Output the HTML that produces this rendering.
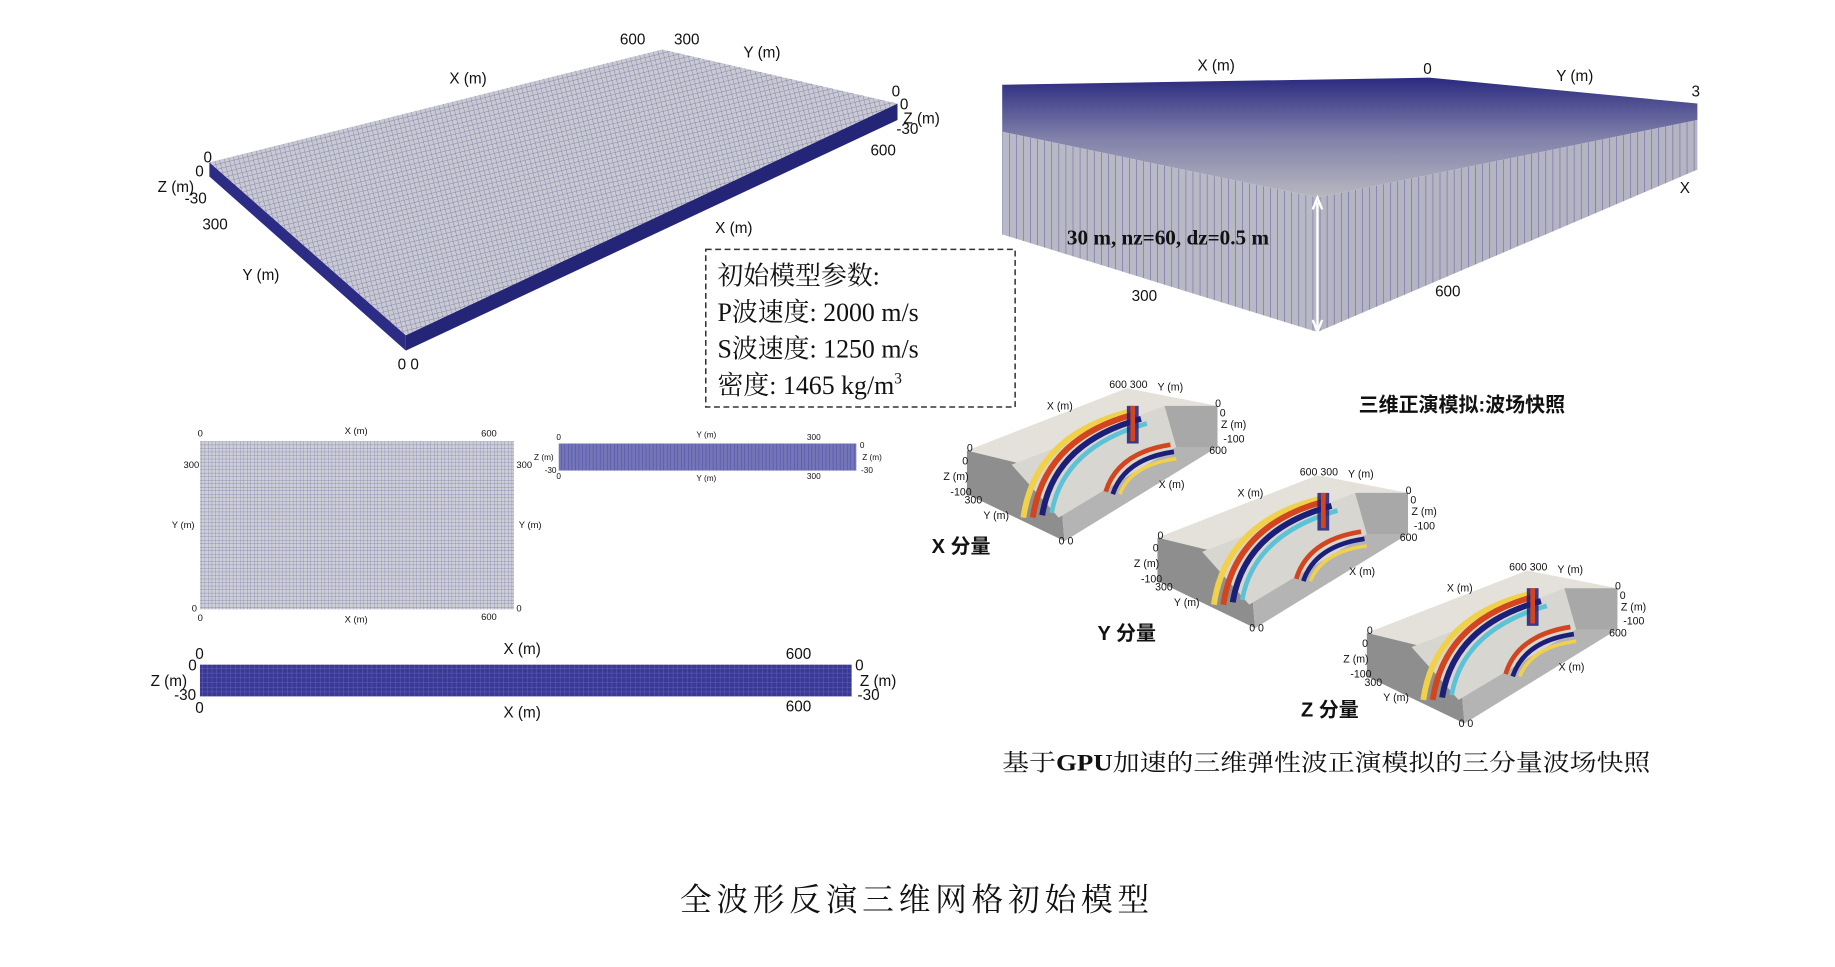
<!DOCTYPE html>
<html><head><meta charset="utf-8"><style>
html,body{margin:0;padding:0;background:#fff;}
svg{display:block;}
.s{font-family:"Liberation Sans","Noto Sans CJK SC",sans-serif;fill:#111;}
.r{font-family:"Liberation Serif","Noto Serif CJK SC",serif;fill:#111;}
</style></head><body>
<svg width="1835" height="967" viewBox="0 0 1560 822" xmlns="http://www.w3.org/2000/svg">
<defs>
<pattern id="g1" width="4" height="4" patternUnits="userSpaceOnUse" patternTransform="rotate(-14)">
<rect width="4" height="4" fill="#c9c9d3"/><path d="M0 0H4M0 0V4" stroke="#8484a8" stroke-width="0.8"/></pattern>
<pattern id="g2" width="3" height="3" patternUnits="userSpaceOnUse">
<rect width="3" height="3" fill="#cfcfd8"/><path d="M0 0H3M0 0V3" stroke="#8a8ab4" stroke-width="0.7"/></pattern>
<pattern id="vs" width="6" height="6" patternUnits="userSpaceOnUse">
<rect width="6" height="6" fill="#b9b9c6"/><path d="M0 0V6" stroke="#5656a0" stroke-width="0.8"/></pattern>
<pattern id="vs2" width="6" height="6" patternUnits="userSpaceOnUse" patternTransform="skewY(-22)">
<rect width="6" height="6" fill="#b4b4c2"/><path d="M0 0V6" stroke="#5656a0" stroke-width="0.8"/></pattern>
<pattern id="db" width="4" height="4" patternUnits="userSpaceOnUse">
<rect width="4" height="4" fill="#3a3a96"/><path d="M0 0H4M0 0V4" stroke="#6c6cc0" stroke-width="0.6"/></pattern>
<pattern id="mb" width="3" height="3" patternUnits="userSpaceOnUse">
<rect width="3" height="3" fill="#7474b8"/><path d="M0 0V3" stroke="#4a4aa0" stroke-width="0.8"/></pattern>
<linearGradient id="tf" x1="0" y1="0" x2="0" y2="1">
<stop offset="0" stop-color="#2a2a80"/><stop offset="0.5" stop-color="#8080aa"/><stop offset="1" stop-color="#b8b8c0"/></linearGradient>
<g id="wb">
<polygon points="822,383 958,330 1035,345 900,402" fill="#e4e1da"/>
<polygon points="822,383 900,402 905,460 822,420" fill="#8e8e8e"/>
<polygon points="900,402 1035,345 1035,380 905,460" fill="#b4b4b4"/>
<polygon points="860,395 990,345 1000,380 900,440" fill="#d8d6d0"/>
<polygon points="990,345 1035,345 1035,380 1000,380" fill="#a8a8a8"/>
<path d="M870 440 Q880 370 960 350" stroke="#f2d14a" stroke-width="5" fill="none"/>
<path d="M878 440 Q888 372 965 352" stroke="#d2451e" stroke-width="5" fill="none"/>
<path d="M886 438 Q896 376 970 356" stroke="#1c1f78" stroke-width="5" fill="none"/>
<path d="M894 436 Q904 380 975 360" stroke="#5cc3d6" stroke-width="4" fill="none"/>
<path d="M940 418 Q950 385 995 378" stroke="#d2451e" stroke-width="4" fill="none"/>
<path d="M946 420 Q956 390 998 384" stroke="#1c1f78" stroke-width="4" fill="none"/>
<path d="M952 420 Q962 395 1000 390" stroke="#f2d14a" stroke-width="3" fill="none"/>
<rect x="958" y="345" width="10" height="32" fill="#1c1f78" opacity="0.85"/>
<rect x="961" y="345" width="4" height="30" fill="#d2451e"/>
</g>
</defs>

<polygon points="178,138 345,285 345,298 178,150" fill="#2c2c85"/>
<polygon points="345,285 763,88 763,102 345,298" fill="#252578"/>
<polygon points="178,138 563,42 763,88 345,285" fill="url(#g1)"/>
<g class="s" font-size="13">
<text x="527" y="38">600</text><text x="573" y="38">300</text><text x="632" y="49">Y (m)</text>
<text x="382" y="71">X (m)</text><text x="758" y="82">0</text><text x="765" y="93">0</text>
<text x="768" y="105">Z (m)</text><text x="762" y="114">-30</text><text x="740" y="132">600</text>
<text x="173" y="138">0</text><text x="166" y="150">0</text><text x="134" y="163">Z (m)</text><text x="157" y="173">-30</text>
<text x="172" y="195">300</text><text x="206" y="238">Y (m)</text><text x="608" y="198">X (m)</text><text x="338" y="314">0 0</text>
</g>

<polygon points="852,72 1215,66 1443,88 1443,102 1120,168 852,112" fill="url(#tf)"/>
<polygon points="852,112 1120,168 1120,283 852,200" fill="url(#vs)"/>
<polygon points="1120,168 1443,102 1443,145 1120,283" fill="url(#vs2)"/>
<path d="M852 200 L1120 283 L1443 145" stroke="#fff" stroke-width="1.5" fill="none"/>
<line x1="1120" y1="172" x2="1120" y2="279" stroke="#fff" stroke-width="2"/>
<path d="M1116 178 L1120 168 L1124 178 M1116 272 L1120 282 L1124 272" stroke="#fff" stroke-width="2" fill="none"/>
<g class="s" font-size="13">
<text x="1018" y="60">X (m)</text><text x="1210" y="63">0</text><text x="1323" y="69">Y (m)</text>
<text x="1438" y="82">3</text><text x="1428" y="164">X</text><text x="962" y="256">300</text><text x="1220" y="252">600</text>
</g>
<text class="r" x="907" y="208" font-size="18" font-weight="bold">30 m, nz=60, dz=0.5 m</text>

<rect x="600" y="212" width="263" height="134" fill="#fff" stroke="#333" stroke-width="1.3" stroke-dasharray="5,3"/>
<g class="r" font-size="22">
<text x="610" y="242">初始模型参数:</text>
<text x="610" y="273">P波速度: 2000 m/s</text>
<text x="610" y="304">S波速度: 1250 m/s</text>
<text x="610" y="335">密度:  1465 kg/m<tspan font-size="13" dy="-9">3</tspan></text>
</g>

<rect x="170" y="375" width="267" height="143" fill="url(#g2)"/>
<g class="s" font-size="8">
<text x="168" y="371">0</text><text x="293" y="369">X (m)</text><text x="409" y="371">600</text>
<text x="156" y="398">300</text><text x="439" y="398">300</text>
<text x="146" y="449">Y (m)</text><text x="441" y="449">Y (m)</text>
<text x="163" y="520">0</text><text x="439" y="520">0</text><text x="168" y="528">0</text>
<text x="293" y="529">X (m)</text><text x="409" y="527">600</text>
</g>
<rect x="475" y="377" width="253" height="23" fill="url(#mb)"/>
<g class="s" font-size="7">
<text x="473" y="374">0</text><text x="592" y="372">Y (m)</text><text x="686" y="374">300</text><text x="731" y="381">0</text>
<text x="454" y="391">Z (m)</text><text x="733" y="391">Z (m)</text><text x="463" y="402">-30</text><text x="732" y="402">-30</text>
<text x="473" y="407">0</text><text x="592" y="409">Y (m)</text><text x="686" y="407">300</text>
</g>
<rect x="170" y="565" width="554" height="27" fill="url(#db)"/>
<g class="s" font-size="13">
<text x="166" y="560">0</text><text x="428" y="556">X (m)</text><text x="668" y="560">600</text>
<text x="160" y="570">0</text><text x="727" y="570">0</text>
<text x="128" y="583">Z (m)</text><text x="731" y="583">Z (m)</text>
<text x="148" y="595">-30</text><text x="729" y="595">-30</text>
<text x="166" y="606">0</text><text x="428" y="610">X (m)</text><text x="668" y="605">600</text>
</g>

<use href="#wb"/>
<use href="#wb" transform="translate(162,74)"/>
<use href="#wb" transform="translate(340,155)"/>
<g class="s" font-size="9">
<text x="943" y="330">600 300</text><text x="984" y="332">Y (m)</text><text x="890" y="348">X (m)</text>
<text x="1033" y="346">0</text><text x="1037" y="354">0</text><text x="1038" y="364">Z (m)</text><text x="1040" y="376">-100</text><text x="1028" y="386">600</text>
<text x="822" y="384">0</text><text x="818" y="395">0</text><text x="802" y="408">Z (m)</text><text x="808" y="421">-100</text><text x="820" y="428">300</text>
<text x="836" y="441">Y (m)</text><text x="985" y="415">X (m)</text><text x="900" y="463">0 0</text>
<g transform="translate(162,74)">
<text x="943" y="330">600 300</text><text x="984" y="332">Y (m)</text><text x="890" y="348">X (m)</text>
<text x="1033" y="346">0</text><text x="1037" y="354">0</text><text x="1038" y="364">Z (m)</text><text x="1040" y="376">-100</text><text x="1028" y="386">600</text>
<text x="822" y="384">0</text><text x="818" y="395">0</text><text x="802" y="408">Z (m)</text><text x="808" y="421">-100</text><text x="820" y="428">300</text>
<text x="836" y="441">Y (m)</text><text x="985" y="415">X (m)</text><text x="900" y="463">0 0</text></g>
<g transform="translate(340,155)">
<text x="943" y="330">600 300</text><text x="984" y="332">Y (m)</text><text x="890" y="348">X (m)</text>
<text x="1033" y="346">0</text><text x="1037" y="354">0</text><text x="1038" y="364">Z (m)</text><text x="1040" y="376">-100</text><text x="1028" y="386">600</text>
<text x="822" y="384">0</text><text x="818" y="395">0</text><text x="802" y="408">Z (m)</text><text x="808" y="421">-100</text><text x="820" y="428">300</text>
<text x="836" y="441">Y (m)</text><text x="985" y="415">X (m)</text><text x="900" y="463">0 0</text></g>
</g>
<g class="s" font-size="17" font-weight="bold">
<text x="1155" y="350">三维正演模拟:波场快照</text>
<text x="792" y="470">X 分量</text><text x="933" y="544">Y 分量</text><text x="1106" y="609">Z 分量</text>
</g>
<text class="r" x="852" y="655" font-size="20" textLength="551" lengthAdjust="spacingAndGlyphs">基于<tspan font-weight="bold">GPU</tspan>加速的三维弹性波正演模拟的三分量波场快照</text>
<text class="r" x="578" y="774" font-size="27" letter-spacing="4">全波形反演三维网格初始模型</text>
</svg>
</body></html>
